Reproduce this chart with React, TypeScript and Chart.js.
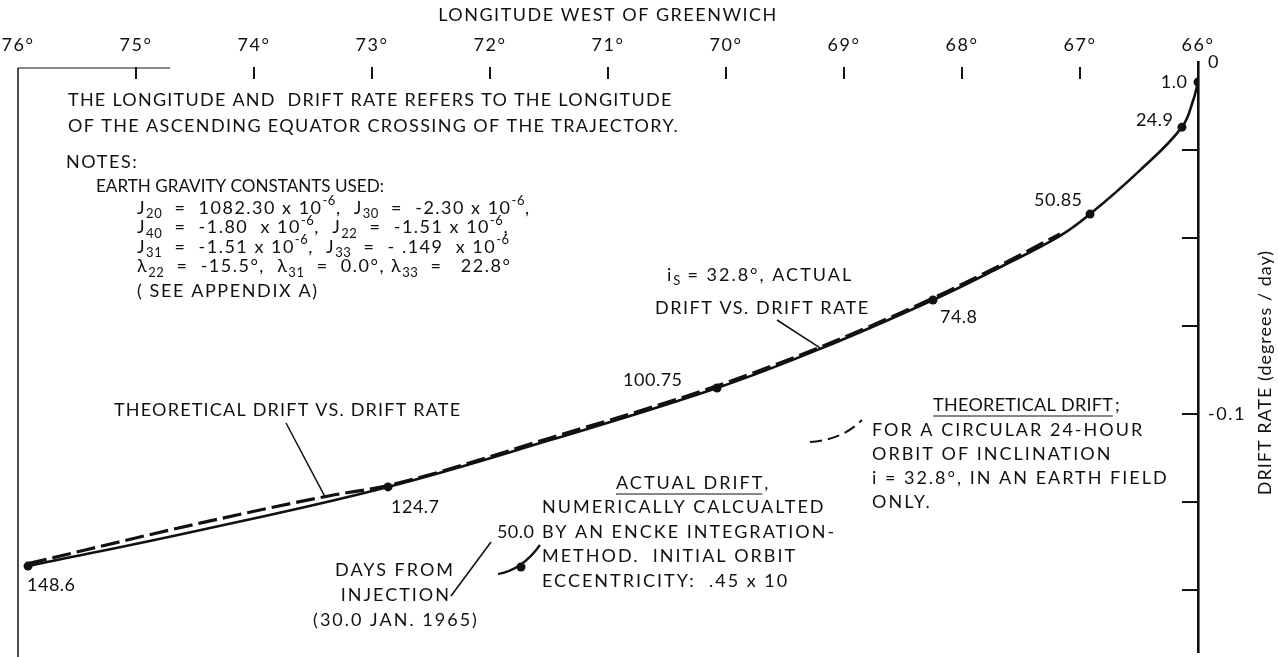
import React, { useEffect, useRef } from "react";
import { Chart, registerables } from "chart.js";

Chart.register(...registerables);

// ---------- data ----------
const lonTicks = [76, 75, 74, 73, 72, 71, 70, 69, 68, 67, 66];
const rateTicks = [0, -0.025, -0.05, -0.075, -0.1, -0.125, -0.15];
const rateTickLabels = ["0", "", "", "", "-0.1", "", ""];
const RATE_MIN = -0.1676;
const RATE_MAX = 0;

// actual drift (solid)
const actualLon = [75.915, 74.46, 72.864, 71.49, 70.076, 69.203, 68.246, 67.678, 67.169, 66.915, 66.49, 66.136, 66.04, 66.0];
const actualRate = [-0.1432, -0.133, -0.1207, -0.1074, -0.0926, -0.0815, -0.0676, -0.0583, -0.0494, -0.0432, -0.0307, -0.0185, -0.0108, -0.0057];

// theoretical drift (dashed)
const theoLon = [75.915, 74.458, 73.356, 72.864, 71.49, 70.076, 69.203, 68.246, 67.678, 67.169];
const theoRate = [-0.1425, -0.131, -0.1232, -0.1203, -0.1068, -0.092, -0.081, -0.0671, -0.0578, -0.0488];

// day markers
const dayLon = [66.0, 66.136, 66.915, 68.246, 70.076, 72.864, 75.915];
const dayRate = [-0.0057, -0.0185, -0.0432, -0.0676, -0.0926, -0.1207, -0.1432];
const dayLabels = ["1.0", "24.9", "50.85", "74.8", "100.75", "124.7", "148.6"];

const FONT = 'Lato, "DejaVu Sans", sans-serif';
const INK = "#111";
const LS = 2;

type Seg = [string, number];

const noteLines: Seg[][] = [
  [["J", 0], ["20", 1], ["  =  1082.30 x 10", 0], ["-6", 2], [",  J", 0], ["30", 1], ["  =  -2.30 x 10", 0], ["-6", 2], [",", 0]],
  [["J", 0], ["40", 1], ["  =  -1.80  x 10", 0], ["-6", 2], [",  J", 0], ["22", 1], ["  =  -1.51 x 10", 0], ["-6", 2], [",", 0]],
  [["J", 0], ["31", 1], ["  =  -1.51 x 10", 0], ["-6", 2], [",  J", 0], ["33", 1], ["  =  - .149  x 10", 0], ["-6", 2]],
  [["λ", 0], ["22", 1], ["  =  -15.5°,  λ", 0], ["31", 1], ["  =  0.0°, λ", 0], ["33", 1], ["  =   22.8°", 0]],
];

function txt(
  ctx: CanvasRenderingContext2D,
  s: string,
  x: number,
  y: number,
  align: CanvasTextAlign = "left",
  size = 18,
  ls = LS
) {
  ctx.font = `${size}px ${FONT}`;
  (ctx as any).letterSpacing = `${ls}px`;
  ctx.textAlign = align;
  ctx.textBaseline = "middle";
  const w = ctx.measureText(s).width;
  const dx = align === "right" ? ls : align === "center" ? ls / 2 : 0;
  ctx.fillText(s, x + dx, y);
  (ctx as any).letterSpacing = "0px";
  return w - ls;
}

// left-aligned text squeezed/stretched to a given width
function fitTxt(ctx: CanvasRenderingContext2D, s: string, x: number, y: number, width: number, size = 18) {
  ctx.font = `${size}px ${FONT}`;
  (ctx as any).letterSpacing = "0px";
  const w = ctx.measureText(s).width;
  ctx.save();
  ctx.translate(x, y);
  ctx.scale(width / w, 1);
  ctx.textAlign = "left";
  ctx.textBaseline = "middle";
  ctx.fillText(s, 0, 0);
  ctx.restore();
}

function rich(ctx: CanvasRenderingContext2D, segs: Seg[], x: number, y: number, size = 18, ls = 1.5) {
  let cx = x;
  for (const [t, k] of segs) {
    const fs = k === 0 ? size : Math.round(size * 0.72);
    ctx.font = `${fs}px ${FONT}`;
    (ctx as any).letterSpacing = `${k === 0 ? ls : 0.5}px`;
    ctx.textAlign = "left";
    ctx.textBaseline = "middle";
    const dy = k === 1 ? 6 : k === 2 ? -7 : 0;
    ctx.fillText(t, cx, y + dy);
    cx += ctx.measureText(t).width;
  }
  (ctx as any).letterSpacing = "0px";
}

function line(ctx: CanvasRenderingContext2D, pts: number[][], w = 1.5, dash: number[] = []) {
  ctx.save();
  ctx.lineWidth = w;
  ctx.setLineDash(dash);
  ctx.strokeStyle = INK;
  ctx.beginPath();
  pts.forEach((p, i) => (i === 0 ? ctx.moveTo(p[0], p[1]) : ctx.lineTo(p[0], p[1])));
  ctx.stroke();
  ctx.restore();
}

const spacingPlugin = {
  id: "spacing",
  beforeDraw(chart: any) {
    (chart.ctx as any).letterSpacing = "1.5px";
  },
  afterDraw(chart: any) {
    (chart.ctx as any).letterSpacing = "0px";
  },
};

const annotPlugin = {
  id: "annot",
  afterDraw(chart: any) {
    const ctx: CanvasRenderingContext2D = chart.ctx;
    const xs = chart.scales.x;
    const ys = chart.scales.y;
    const area = chart.chartArea;
    ctx.save();
    (ctx as any).letterSpacing = "0px";
    ctx.fillStyle = INK;
    ctx.strokeStyle = INK;

    // frame fragments: left edge and short top piece
    line(ctx, [[area.left, 68], [area.left, 657]], 1.5);
    line(ctx, [[area.left, 68], [170, 68]], 1);

    // inward tick marks on top axis
    for (const v of lonTicks) {
      if (v === 76 || v === 66) continue;
      const px = xs.getPixelForValue(v);
      line(ctx, [[px, 67], [px, 79]], 2);
    }
    // inward tick marks on right axis
    for (const v of rateTicks) {
      if (v === 0) continue;
      const py = ys.getPixelForValue(v);
      line(ctx, [[area.right, py], [area.right - 16, py]], 2);
    }

    // right axis title (reads bottom to top)
    ctx.save();
    ctx.translate(1265, 373);
    ctx.rotate(-Math.PI / 2);
    txt(ctx, "DRIFT RATE (degrees / day)", 0, 0, "center", 18, 1);
    ctx.restore();

    // day labels
    const meta = chart.getDatasetMeta(2);
    const offs: [number, number, CanvasTextAlign][] = [
      [-11, 0, "right"],
      [-9, -7, "right"],
      [-8, -14, "right"],
      [7, 17, "left"],
      [-35, -8, "right"],
      [3, 20, "left"],
      [-1, 19, "left"],
    ];
    meta.data.forEach((pt: any, i: number) => {
      const o = offs[i];
      txt(ctx, dayLabels[i], pt.x + o[0], pt.y + o[1], o[2], 18, 0.5);
    });

    // notes block
    txt(ctx, "THE LONGITUDE AND  DRIFT RATE REFERS TO THE LONGITUDE", 68, 100, "left", 18, 1.25);
    txt(ctx, "OF THE ASCENDING EQUATOR CROSSING OF THE TRAJECTORY.", 68, 126, "left", 18, 1.35);
    txt(ctx, "NOTES:", 66, 162, "left", 18, 1.6);
    fitTxt(ctx, "EARTH GRAVITY CONSTANTS USED:", 96, 186, 288);
    noteLines.forEach((segs, i) => rich(ctx, segs, 137, 208 + i * 19.5));
    txt(ctx, "( SEE APPENDIX A)", 137, 291, "left", 18, 1.6);

    // actual drift leader
    rich(ctx, [["i", 0], ["S", 1], [" = 32.8°, ACTUAL", 0]], 667, 275, 18, 2);
    txt(ctx, "DRIFT VS. DRIFT RATE", 655, 308, "left", 18, 1.5);
    line(ctx, [[777, 320], [xs.getPixelForValue(69.203), ys.getPixelForValue(-0.0812)]], 1.5);

    // theoretical drift leader
    txt(ctx, "THEORETICAL DRIFT VS. DRIFT RATE", 114, 410, "left", 18, 1.2);
    line(ctx, [[286, 423], [xs.getPixelForValue(73.4), ys.getPixelForValue(-0.1234)]], 1.5);

    // theoretical drift legend block
    const tw = txt(ctx, "THEORETICAL DRIFT", 933, 405, "left", 18, 0.3);
    txt(ctx, ";", 933 + tw + 2, 405);
    line(ctx, [[933, 416], [933 + tw, 416]], 1);
    txt(ctx, "FOR A CIRCULAR 24-HOUR", 872, 430);
    txt(ctx, "ORBIT OF INCLINATION", 872, 454);
    txt(ctx, "i = 32.8°, IN AN EARTH FIELD", 872, 478);
    txt(ctx, "ONLY.", 872, 502);
    ctx.save();
    ctx.lineWidth = 2;
    ctx.setLineDash([12, 6]);
    ctx.beginPath();
    ctx.moveTo(810, 442);
    ctx.quadraticCurveTo(842, 440, 862, 420);
    ctx.stroke();
    ctx.restore();

    // actual drift legend block
    const aw = txt(ctx, "ACTUAL DRIFT", 616, 483);
    txt(ctx, ",", 616 + aw + 2, 483);
    line(ctx, [[616, 494], [616 + aw, 494]], 1);
    txt(ctx, "NUMERICALLY CALCUALTED", 542, 507);
    txt(ctx, "BY AN ENCKE INTEGRATION-", 542, 532);
    txt(ctx, "METHOD.  INITIAL ORBIT", 542, 556);
    txt(ctx, "ECCENTRICITY:  .45 x 10", 542, 581);
    txt(ctx, "50.0", 534, 532, "right", 18, 0.5);
    ctx.save();
    ctx.lineWidth = 2.2;
    ctx.beginPath();
    ctx.moveTo(498, 574);
    ctx.quadraticCurveTo(522, 570, 540, 545);
    ctx.stroke();
    ctx.beginPath();
    ctx.arc(521, 567, 4.5, 0, Math.PI * 2);
    ctx.fill();
    ctx.restore();

    // days from injection
    txt(ctx, "DAYS FROM", 453, 570, "right");
    txt(ctx, "INJECTION", 449, 595, "right");
    txt(ctx, "(30.0 JAN. 1965)", 395, 620, "center");
    line(ctx, [[451, 596], [491, 542]], 1.6);

    ctx.restore();
  },
};

export default function App() {
  const ref = useRef<HTMLCanvasElement | null>(null);
  useEffect(() => {
    document.body.style.margin = "0";
    const canvas = ref.current!;
    const actual = actualLon.map((x, i) => ({ x, y: actualRate[i] }));
    const theo = theoLon.map((x, i) => ({ x, y: theoRate[i] }));
    const days = dayLon.map((x, i) => ({ x, y: dayRate[i] }));
    const chart = new Chart(canvas, {
      type: "scatter",
      data: {
        datasets: [
          {
            data: theo,
            showLine: true,
            borderColor: INK,
            borderWidth: 3.2,
            borderDash: [19, 6],
            pointRadius: 0,
            cubicInterpolationMode: "monotone",
          },
          {
            data: actual,
            showLine: true,
            borderColor: INK,
            borderWidth: 2.6,
            pointRadius: 0,
            tension: 0.4,
          },
          {
            data: days,
            showLine: false,
            pointRadius: 4.5,
            pointBackgroundColor: INK,
            pointBorderColor: INK,
            pointBorderWidth: 0,
          },
        ],
      } as any,
      options: {
        animation: false,
        responsive: false,
        events: [],
        layout: { padding: { left: 18, right: 0, top: 0, bottom: 5 } },
        plugins: { legend: { display: false }, tooltip: { enabled: false } },
        scales: {
          x: {
            type: "linear",
            position: "top",
            reverse: true,
            min: 66,
            max: 76,
            afterBuildTicks: (s: any) => {
              s.ticks = lonTicks.map((v) => ({ value: v }));
            },
            afterFit: (s: any) => {
              s.height = 62;
              s.paddingLeft = 0;
              s.paddingRight = 0;
            },
            ticks: {
              autoSkip: false,
              maxRotation: 0,
              padding: 6,
              color: INK,
              font: { family: FONT, size: 18 },
              callback: (v: any) => `${v}°`,
            },
            grid: { display: false, drawTicks: false },
            border: { display: false },
            title: {
              display: true,
              text: "LONGITUDE WEST OF GREENWICH",
              color: INK,
              font: { family: FONT, size: 18 },
              padding: { top: 4, bottom: 0 },
            },
          },
          y: {
            type: "linear",
            position: "right",
            min: RATE_MIN,
            max: RATE_MAX,
            afterBuildTicks: (s: any) => {
              s.ticks = rateTicks.map((v) => ({ value: v }));
            },
            afterFit: (s: any) => {
              s.width = 80;
              s.paddingTop = 0;
              s.paddingBottom = 0;
            },
            ticks: {
              autoSkip: false,
              padding: 10,
              color: INK,
              font: { family: FONT, size: 18 },
              callback: (v: any) => {
                const i = rateTicks.findIndex((t) => Math.abs(t - v) < 1e-9);
                return i >= 0 ? rateTickLabels[i] : "";
              },
            },
            grid: { display: false, drawTicks: false },
            border: { display: true, color: INK, width: 2.6 },
          },
        },
      } as any,
      plugins: [spacingPlugin, annotPlugin],
    });
    return () => chart.destroy();
  }, []);
  return (
    <div style={{ width: 1278, height: 657, background: "#fff" }}>
      <canvas ref={ref} width={1278} height={657} style={{ display: "block" }} />
    </div>
  );
}
